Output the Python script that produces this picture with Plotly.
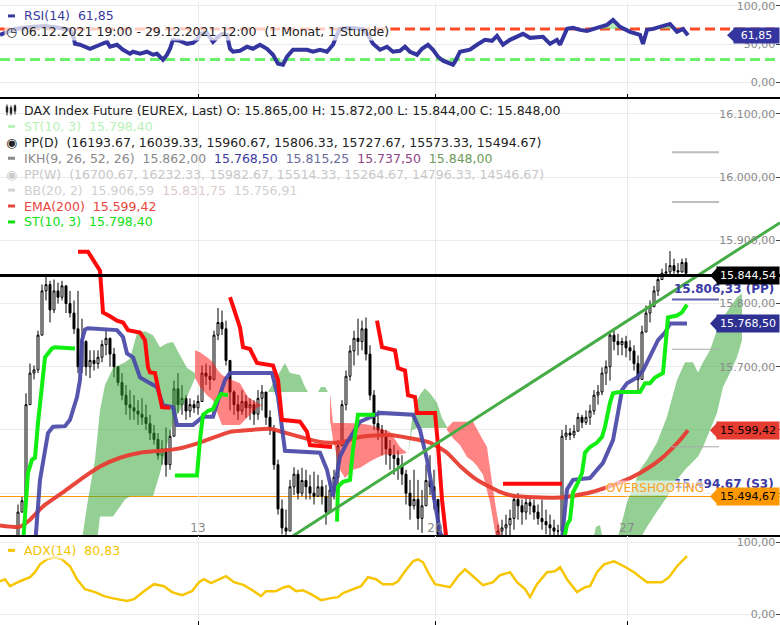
import plotly.graph_objects as go

W, H = 780, 625
FONT = "DejaVu Sans"

# ---------------- price bars (hourly DAX future, bar index 0 = first bar on screen) -------------
first_open = 15400
bar_close = [15405,15402,15408,15420,15470,15488,15640,15690,15695,15750,
             15820,15830,15790,15820,15810,15828,15800,15785,15760,15700,
             15740,15700,15710,15705,15715,15735,15745,15720,15700,15675,
             15655,15640,15635,15630,15625,15620,15610,15595,15585,15560,
             15570,15545,15590,15665,15640,15650,15630,15640,15635,15645,
             15690,15685,15680,15750,15770,15760,15710,15660,15640,15630,
             15645,15635,15640,15625,15650,15660,15620,15600,15545,15475,
             15445,15440,15510,15530,15500,15520,15510,15500,15495,15510,
             15495,15470,15505,15525,15575,15640,15685,15725,15745,15740,
             15760,15720,15655,15610,15600,15590,15570,15560,15555,15545,
             15530,15500,15480,15490,15460,15480,15520,15510,15490,15435,
             15405,15395,15390,15385,15380,15385,15390,15385,15380,15390,
             15395,15400,15410,15415,15440,15445,15450,15460,15490,15480,
             15470,15485,15480,15470,15460,15455,15450,15445,15440,15440,
             15590,15595,15592,15598,15620,15612,15620,15630,15655,15660,
             15690,15700,15750,15740,15735,15740,15730,15725,15705,15680,
             15755,15785,15795,15820,15838,15848,15850,15860,15852,15850,
             15865,15848]
bar_high = [15410,15412,15415,15428,15482,15494,15658,15705,15702,15757,
            15830,15842,15836,15838,15833,15836,15828,15820,15805,15820,
            15776,15742,15726,15726,15726,15742,15757,15746,15730,15700,
            15690,15671,15663,15655,15647,15650,15640,15624,15608,15595,
            15584,15604,15600,15678,15690,15671,15655,15650,15647,15655,
            15702,15705,15702,15757,15793,15789,15773,15702,15663,15655,
            15663,15655,15650,15647,15663,15671,15660,15631,15608,15553,
            15490,15474,15521,15541,15537,15540,15537,15529,15534,15529,
            15521,15513,15521,15537,15584,15647,15694,15734,15757,15776,
            15773,15778,15734,15663,15631,15608,15600,15584,15576,15568,
            15560,15537,15521,15537,15521,15505,15545,15560,15537,15490,
            15435,15415,15410,15405,15400,15400,15405,15405,15400,15400,
            15410,15415,15420,15428,15450,15458,15466,15474,15497,15500,
            15490,15497,15494,15490,15482,15490,15474,15466,15458,15450,
            15600,15608,15603,15608,15627,15624,15631,15640,15663,15671,
            15699,15710,15757,15757,15752,15746,15749,15742,15734,15718,
            15765,15797,15805,15828,15844,15855,15864,15883,15871,15864,
            15871,15872]
bar_low = [15395,15398,15400,15405,15420,15470,15490,15670,15680,15690,
           15752,15805,15770,15785,15800,15805,15785,15778,15752,15690,
           15690,15686,15682,15694,15697,15707,15718,15700,15683,15670,
           15647,15624,15616,15616,15608,15608,15600,15584,15577,15553,
           15545,15526,15537,15590,15627,15624,15616,15620,15627,15624,
           15645,15671,15663,15678,15742,15750,15702,15631,15624,15616,
           15624,15619,15616,15608,15616,15631,15608,15592,15537,15466,
           15435,15431,15440,15497,15490,15495,15490,15490,15482,15495,
           15482,15450,15470,15490,15513,15575,15631,15678,15702,15718,
           15726,15710,15647,15600,15584,15560,15545,15537,15529,15521,
           15513,15482,15458,15474,15442,15437,15480,15497,15474,15431,
           15395,15385,15380,15375,15370,15370,15375,15375,15370,15370,
           15380,15385,15390,15395,15410,15420,15425,15430,15442,15458,
           15450,15458,15466,15458,15450,15442,15435,15431,15431,15427,
           15431,15584,15584,15587,15598,15603,15608,15608,15624,15640,
           15655,15671,15678,15726,15718,15718,15715,15710,15694,15658,
           15680,15755,15770,15795,15812,15838,15842,15844,15847,15844,
           15849,15844]

day_tick_t = [49, 108.25, 156.25]
day_tick_text = ["13", "20", "27"]
price_ticks = [15500, 15600, 15700, 15800, 15900, 16000, 16100]

# ---------------- EMA(200) ----------------
ema_t = [-0.5, 4.5, 7, 10.25, 14.5, 19.5, 24.5, 29.5, 34.5, 39.5, 43.75, 49.5, 57, 62, 67, 69.5,
         74.5, 79.5, 84.5, 89.5, 97, 102, 107, 111.25, 114.5, 118.75, 124.5, 127.75, 139.5, 147,
         154.5, 159.5, 164.5, 169.5, 171.5]
ema_v = [15449, 15447, 15458, 15479, 15498, 15521, 15542, 15556, 15564, 15567, 15570, 15580, 15597,
         15600, 15602, 15598, 15589, 15581, 15580, 15589, 15592, 15587, 15580, 15564, 15543, 15521,
         15502, 15496, 15493, 15501, 15517, 15532, 15553, 15584, 15599.42]

# ---------------- IKH Kijun (blue) ----------------
kijun_t = [8, 9.5, 11.5, 12.75, 15.75, 17, 18.75, 19.5, 20, 20.75, 21.5, 28.75, 30.25, 31.25, 32.75,
           33.75, 34.5, 37, 38.75, 40.25, 42.75, 43.75, 47.75, 50.25, 52.75, 54, 55.75, 57, 67.5, 69,
           70.75, 79.5, 81.25, 82.75, 83.75, 84.5, 86.25, 89.5, 94.5, 102.75, 104.5, 106.25, 107.75,
           109, 110.75, None, 139.5, 141.25, 142.75, 147, 150.25, 152.75, 154, 155, 156.25, 158.75,
           160.25, 162.5, 164, 165.75, 167, 171.25]
kijun_v = [15395, 15521, 15595, 15605, 15606, 15616, 15652, 15679, 15742, 15759, 15761, 15758, 15747,
           15721, 15715, 15699, 15683, 15674, 15668, 15639, 15636, 15608, 15608, 15621, 15621, 15647,
           15679, 15690, 15690, 15652, 15567, 15564, 15537, 15495, 15532, 15558, 15580, 15613, 15627,
           15624, 15600, 15553, 15501, 15454, 15395, None, 15395, 15506, 15521, 15524, 15548, 15584,
           15627, 15663, 15674, 15683, 15694, 15721, 15742, 15754, 15768.5, 15768.5]

# ---------------- Supertrend ST(10,3): bearish (red) and bullish (green) parts ----------------
st_down_t = [19, 21.5, 24.5, 25.25, 27, 28.75, 30.25, 31.5, 34.5, 35.75, 36.5, 37, 38.25, 39, 40, 42, None,
             57, 58.75, 59.5, 60.25, 62, 63.75, 67.75, 69, 70, 74.5, 76.25, 77, 82.5, None,
             93.75, 95, 98.25, 99, 100.75, 101.5, 103.25, 103.75, 108.25, 109, 110, 111.25, None,
             125.25, 140]
st_down_v = [15882, 15882, 15852, 15786, 15780, 15773, 15770, 15758, 15754, 15742, 15699, 15691, 15690,
             15668, 15636, 15635, None,
             15810, 15778, 15762, 15731, 15728, 15706, 15702, 15679, 15616, 15613, 15597, 15576, 15573, None,
             15773, 15731, 15726, 15698, 15694, 15655, 15652, 15627, 15627, 15576, 15490, 15419, None,
             15515, 15515]
st_up_t = [5.25, 6, 6.5, 7.5, 8.25, 9, 10, 10.75, 11.5, 12.5, 13.25, 18.25, None,
           43.25, 48.75, 49.5, 50.25, 51.5, 52.75, 53.75, 54.75, 56.5, None,
           83.75, 84, 85.25, 87, 87.75, 89, 93.25, None,
           140.25, 141.25, 142, 142.75, 144, 145, 145.75, 147, 148.75, 150, 150.75, 152, 152.75, 154.5,
           159.5, 160.75, 162, 163.25, 165.25, 165.75, 166.25, 166.5, 168.75, 170, 171.25]
st_up_v = [15419, 15490, 15532, 15553, 15556, 15611, 15663, 15715, 15721, 15729, 15731, 15729, None,
           15528, 15528, 15584, 15624, 15630, 15633, 15647, 15657, 15655, None,
           15455, 15510, 15518, 15521, 15569, 15624, 15624, None,
           15419, 15450, 15458, 15501, 15517, 15532, 15564, 15573, 15580, 15589, 15605, 15643, 15658, 15660,
           15660, 15674, 15674, 15683, 15690, 15721, 15762, 15778, 15781, 15786, 15798.4]

# ---------------- Ichimoku cloud (span A / span B, shifted forward) ----------------
kumo1_t = [20, 21.5, 23.25, 24.5, 25.75, 27.75, 30.75, 32, 33.75, 35.75, 37.75, 39.5, 41.25, 42.75, 44.5, 46.25, 48.25]
kumo1_a = [15427, 15490, 15553, 15631, 15671, 15698, 15707, 15713, 15753, 15756, 15750, 15731, 15737, 15739, 15718, 15698, 15690]
kumo1_b = [15395, 15395, 15395, 15463, 15463, 15463, 15490, 15495, 15495, 15495, 15495, 15532, 15576, 15613, 15631, 15652, 15682]

kumo2_t = [48.25, 49.5, 51.25, 52.75, 54, 55, 56.25, 57.5, 59.5, 61.5, 63.75, 65]
kumo2_a = [15682, 15668, 15655, 15647, 15624, 15608, 15608, 15608, 15608, 15621, 15635, 15639]
kumo2_b = [15726, 15723, 15715, 15707, 15694, 15687, 15683, 15679, 15674, 15652, 15643, 15639]

kumo3_t = [66.5, 67.5, 68.75, 70.75, 72, 74.5, 75.75, 76.5, 79, 79.75, 80.75, 81.5]
kumo3_a = [15660, 15671, 15683, 15706, 15690, 15687, 15668, 15660, 15660, 15668, 15668, 15660]
kumo3_b = [15660, 15660, 15660, 15660, 15660, 15660, 15660, 15660, 15660, 15660, 15660, 15660]

kumo4_t = [82, 82.75, 84.5, 85.75, 87.75, 89.5, 92, 93.75, 95.75, 97, 99.5, 101.25]
kumo4_a = [15616, 15584, 15537, 15524, 15537, 15540, 15550, 15556, 15561, 15561, 15561, 15564]
kumo4_b = [15658, 15611, 15611, 15611, 15611, 15610, 15608, 15605, 15600, 15597, 15573, 15564]

kumo5_t = [101.5, 102.5, 103.75, 104.75, 105.75, 107, 108.75, 110, 111.25]
kumo5_a = [15561, 15616, 15647, 15658, 15666, 15658, 15643, 15619, 15605]
kumo5_b = [15561, 15600, 15603, 15603, 15603, 15603, 15603, 15603, 15603]

kumo6_t = [111.25, 112.75, 114.5, 116.25, 117.75, 118.75, 120.25, 121.25, 122, 122.75, 123.75, 125, 126]
kumo6_a = [15600, 15587, 15576, 15557, 15550, 15543, 15529, 15506, 15485, 15458, 15419, 15395, 15395]
kumo6_b = [15603, 15613, 15613, 15613, 15613, 15600, 15584, 15573, 15537, 15506, 15466, 15427, 15395]

kumo7_t = [147.5, 148.5, 149.5, 150.5]
kumo7_a = [15419, 15447, 15449, 15419]
kumo7_b = [15395, 15395, 15395, 15395]

kumo8_t = [153.5, 156.25, 159.5, 161.25, 163.75, 166.25, 168.75, 170.75, 172.75, 174, 175.25, 177, 178.75,
           180.25, 182, 183.75, 185]
kumo8_a = [15419, 15485, 15537, 15553, 15580, 15621, 15679, 15707, 15707, 15691, 15707, 15726, 15758,
           15778, 15794, 15810, 15816]
kumo8_b = [15395, 15408, 15427, 15447, 15471, 15494, 15521, 15537, 15550, 15558, 15573, 15600, 15627,
           15668, 15690, 15715, 15742]

# ---------------- drawn trend line ----------------
trend_t = [68, 194.5]
trend_v = [15413, 15928]

# ---------------- levels ----------------
last_line_level = 15844.54
pp_d_levels = [16193.67, 16039.33, 15960.67, 15806.33, 15727.67, 15573.33, 15494.67]
pp_d_names = ["R3", "R2", "R1", "PP", "S1", "S2", "S3"]
pp_d_t = [167.5, 179.25]
pp_w_levels = [16700.67, 16232.33, 15982.67, 15514.33, 15264.67, 14796.33, 14546.67]
ema_last = 15599.42
kijun_last = 15768.50
st_last = 15798.40

# ---------------- RSI(14) ----------------
rsi_t = [-0.5, 1.25, 3.25, 7, 10.75, 14.5, 17, 17.75, 18.25, 19.5, 22, 24.5, 26.25, 27, 28.75, 30.25, 32,
         32.75, 34.5, 36.25, 37.75, 38.75, 40.25, 41.25, 42, 42.75, 44.5, 46.25, 47.75, 49, 49.5, 51.25,
         52, 52.75, 53.75, 55, 56.25, 57, 57.75, 59.5, 61.25, 62.75, 64.5, 66.25, 67.75, 69, 70.25, 71.25,
         72.75, 76.25, 77.75, 79.5, 81.25, 82.75, 83.75, 84.5, 87, 90.25, 91.5, 92.75, 94.5, 96.25, 97.75,
         99.5, 100.75, 102, 103.75, 105, 106.5, 107.75, 109, 110.25, 112.75, 113.25, 114.5, 117, 118.75,
         120.75, 122.5, 123.75, 125.25, 127, 130.25, 132, 135.25, 137, 138.75, 139.5, 141.25, 142.75,
         144.5, 146.25, 148.75, 151.25, 152.75, 154.5, 157, 159.5, 160.25, 161.25, 162.75, 165.25, 167,
         168.75, 170.25, 171.5]
rsi_v = [62.3, 66.2, 70.1, 72.7, 74.0, 71.4, 68.8, 62.3, 50.6, 49.4, 44.2, 49.4, 53.2, 46.8, 49.4, 42.9,
         37.7, 40.3, 37.7, 40.3, 36.4, 37.7, 29.9, 36.4, 44.2, 55.8, 54.5, 50.6, 51.9, 57.1, 63.6, 64.9,
         59.7, 53.2, 58.4, 63.6, 62.3, 44.2, 40.3, 41.6, 46.8, 44.2, 49.4, 44.2, 36.4, 24.7, 23.4, 33.8,
         42.9, 42.9, 40.3, 42.9, 40.3, 49.4, 62.3, 70.1, 71.4, 70.1, 62.3, 50.6, 42.9, 46.8, 40.3, 41.6,
         46.8, 40.3, 36.4, 44.2, 49.4, 42.9, 33.8, 28.6, 23.4, 27.3, 40.3, 42.9, 49.4, 55.8, 54.5, 61.0,
         49.4, 55.8, 63.6, 58.4, 59.7, 50.6, 55.8, 49.4, 70.1, 71.4, 68.8, 67.5, 71.4, 75.3, 81.8, 72.7,
         66.2, 62.3, 50.6, 68.8, 70.1, 74.0, 76.6, 66.2, 70.1, 61.85]
rsi_levels = [70, 30]

# ---------------- ADX(14) ----------------
adx_t = [-0.5, 0.75, 2, 4.5, 7, 8.25, 9.5, 11.25, 13.25, 15, 17, 18.75, 20.75, 23.25, 25.5, 27.5, 31.25,
         33, 35.5, 38, 40.5, 42.5, 45, 47.5, 49.25, 50.5, 52.25, 54.25, 56, 58, 60.5, 63, 64.75, 66, 68.5,
         70.5, 71.75, 73.5, 75.25, 77.25, 79.75, 82.25, 84, 85.25, 87.75, 89.75, 91.5, 93.5, 95.25, 97.75,
         99, 100.75, 102.75, 104, 105.25, 106.5, 108.25, 110.25, 112, 114, 115.75, 117.75, 120.25, 122.75,
         124.5, 127, 128.75, 130.75, 132, 133.75, 136.25, 138.25, 139.5, 141.25, 143.75, 145.75, 147,
         148.75, 150.5, 153, 155.5, 158, 161.25, 165, 166.75, 168.75, 171.25]
adx_v = [45.8, 48.6, 38.9, 45.8, 51.4, 58.3, 69.4, 76.4, 79.2, 76.4, 66.7, 48.6, 34.7, 30.6, 25.0, 22.2,
         18.1, 20.8, 31.9, 41.7, 38.9, 30.6, 26.4, 31.9, 44.4, 48.6, 43.1, 48.6, 52.8, 44.4, 40.3, 31.9,
         25.0, 31.9, 31.9, 37.5, 38.9, 31.9, 33.3, 27.8, 19.4, 22.2, 23.6, 29.2, 34.7, 38.9, 51.4, 48.6,
         41.7, 41.7, 45.8, 59.7, 73.6, 76.4, 72.2, 58.3, 41.7, 38.9, 37.5, 52.8, 62.5, 52.8, 40.3, 44.4,
         54.2, 58.3, 44.4, 34.7, 23.6, 41.7, 58.3, 59.7, 65.3, 48.6, 30.6, 37.5, 38.9, 58.3, 69.4, 73.6,
         66.7, 58.3, 44.4, 44.4, 51.4, 66.7, 80.83]


# ================= helpers =================
def de(v, nd=2):
    s = f"{v:,.{nd}f}"
    return s.replace(",", "X").replace(".", ",").replace("X", ".")


def px(x):
    return x / W


def py(y):
    return 1 - y / H


# geometry (pixel layout)
RSI_DOM = [1 - 95 / H, 1.0]
MAIN_DOM = [1 - 536 / H, 1 - 97 / H]
ADX_DOM = [4 / H, 1 - 537 / H]
MAIN_RANGE = [15433.1, 16124.4]
RSI_RANGE = [-18.2, 105.2]
ADX_RANGE = [-8.33, 108.3]
GRID = "#ebebeb"
GREEN_FILL = "rgba(50,165,50,0.52)"
RED_FILL = "rgba(255,20,20,0.52)"
LEG = 12.5

bar_t = list(range(len(bar_close)))
bar_open = [first_open] + bar_close[:-1]
hi = [max(h, o, c) for h, o, c in zip(bar_high, bar_open, bar_close)]
lo = [min(l, o, c) for l, o, c in zip(bar_low, bar_open, bar_close)]

fig = go.Figure()

fig.add_trace(go.Candlestick(
    x=bar_t, open=bar_open, high=hi, low=lo, close=bar_close,
    xaxis="x", yaxis="y", whiskerwidth=0, hoverinfo="skip",
    increasing=dict(line=dict(color="black", width=1), fillcolor="white"),
    decreasing=dict(line=dict(color="black", width=1), fillcolor="black"),
))

kumo = [
    (kumo1_t, kumo1_a, kumo1_b, GREEN_FILL),
    (kumo2_t, kumo2_a, kumo2_b, RED_FILL),
    (kumo3_t, kumo3_a, kumo3_b, GREEN_FILL),
    (kumo4_t, kumo4_a, kumo4_b, RED_FILL),
    (kumo5_t, kumo5_a, kumo5_b, GREEN_FILL),
    (kumo6_t, kumo6_a, kumo6_b, RED_FILL),
    (kumo7_t, kumo7_a, kumo7_b, GREEN_FILL),
    (kumo8_t, kumo8_a, kumo8_b, GREEN_FILL),
]
for t, a, b, col in kumo:
    fig.add_trace(go.Scatter(x=t + t[::-1], y=a + b[::-1], fill="toself", fillcolor=col,
                             mode="lines", line=dict(width=0), hoverinfo="skip",
                             xaxis="x", yaxis="y"))

fig.add_trace(go.Scatter(x=ema_t, y=ema_v, mode="lines",
                         line=dict(color="rgba(232,60,50,0.95)", width=4, shape="spline", smoothing=0.6),
                         xaxis="x", yaxis="y", hoverinfo="skip"))
fig.add_trace(go.Scatter(x=kijun_t, y=kijun_v, mode="lines", line=dict(color="rgba(72,72,168,0.92)", width=4),
                         xaxis="x", yaxis="y", hoverinfo="skip", connectgaps=False))
fig.add_trace(go.Scatter(x=st_down_t, y=st_down_v, mode="lines", line=dict(color="#ff0a0a", width=4),
                         xaxis="x", yaxis="y", hoverinfo="skip", connectgaps=False))
fig.add_trace(go.Scatter(x=st_up_t, y=st_up_v, mode="lines", line=dict(color="#11ee11", width=4),
                         xaxis="x", yaxis="y", hoverinfo="skip", connectgaps=False))
fig.add_trace(go.Scatter(x=trend_t, y=trend_v, mode="lines", line=dict(color="#46ad46", width=3),
                         xaxis="x", yaxis="y", hoverinfo="skip"))

# RSI overbought / oversold shading (between the RSI line and the 70 / 30 levels)
ob_lvl, os_lvl = rsi_levels
fig.add_trace(go.Scatter(x=rsi_t, y=[ob_lvl] * len(rsi_t), mode="lines", line=dict(width=0),
                         xaxis="x2", yaxis="y2", hoverinfo="skip"))
fig.add_trace(go.Scatter(x=rsi_t, y=[max(v, ob_lvl) for v in rsi_v], mode="lines", line=dict(width=0),
                         fill="tonexty", fillcolor="rgba(110,225,110,0.55)", xaxis="x2", yaxis="y2", hoverinfo="skip"))
fig.add_trace(go.Scatter(x=rsi_t, y=[os_lvl] * len(rsi_t), mode="lines", line=dict(width=0),
                         xaxis="x2", yaxis="y2", hoverinfo="skip"))
fig.add_trace(go.Scatter(x=rsi_t, y=[min(v, os_lvl) for v in rsi_v], mode="lines", line=dict(width=0),
                         fill="tonexty", fillcolor="rgba(110,225,110,0.55)", xaxis="x2", yaxis="y2", hoverinfo="skip"))
fig.add_trace(go.Scatter(x=rsi_t, y=rsi_v, mode="lines", line=dict(color="#3535a0", width=4),
                         xaxis="x2", yaxis="y2", hoverinfo="skip"))
fig.add_trace(go.Scatter(x=adx_t, y=adx_v, mode="lines", line=dict(color="#f7c600", width=2.5),
                         xaxis="x3", yaxis="y3", hoverinfo="skip"))

shapes = []
for lvl, col in zip(rsi_levels, ["#ff4a26", "#6cf06c"]):
    shapes.append(dict(type="line", xref="paper", yref="y2", x0=0, x1=1, y0=lvl, y1=lvl,
                       line=dict(color=col, width=3, dash="10px,5px"), layer="between"))
shapes.append(dict(type="line", xref="paper", yref="y", x0=0, x1=1, y0=last_line_level, y1=last_line_level,
                   line=dict(color="black", width=3)))
shapes.append(dict(type="line", xref="paper", yref="y", x0=0, x1=1, y0=pp_d_levels[6], y1=pp_d_levels[6],
                   line=dict(color="#ff9800", width=1), layer="between"))
for name, lvl in zip(pp_d_names, pp_d_levels):
    if name == "S3":
        continue
    if name == "PP":
        col, wd = "rgba(80,80,170,0.9)", 2
    elif name.startswith("R"):
        col, wd = "#bdbdbd", 2
    else:
        col, wd = "#a8a8a8", 1
    shapes.append(dict(type="line", xref="x", yref="y", x0=pp_d_t[0], x1=pp_d_t[1], y0=lvl, y1=lvl,
                       line=dict(color=col, width=wd)))

annotations = []


def legend_text(y, text, color, x=22, size=LEG, bg=None):
    d = dict(xref="paper", yref="paper", x=px(x), y=py(y), xanchor="left", yanchor="middle",
             text=text, showarrow=False, font=dict(family=FONT, size=size, color=color))
    if bg:
        d.update(bgcolor=bg, borderpad=1)
    annotations.append(d)


def dash_marker(y, color):
    shapes.append(dict(type="rect", xref="paper", yref="paper", x0=px(8), x1=px(15),
                       y0=py(y + 1.5), y1=py(y - 1.5), fillcolor=color, line=dict(width=0)))


NB = "\u00a0"
dash_marker(14, "#3a3a9c")
legend_text(14, f"RSI(14){NB}{NB}{de(rsi_v[-1])}", "#3a3a9c")
legend_text(30, f"◷{NB}06.12.2021 19:00 - 29.12.2021 12:00{NB}{NB}(1 Monat, 1 Stunde)", "#222", x=4,
            bg="rgba(255,255,255,0.72)")

o, h_, l_, c = bar_open[-1], hi[-1], lo[-1], bar_close[-1]
legend_text(109, f"DAX Index Future (EUREX, Last) O: {de(o)} H: {de(h_)} L: {de(l_)} C: {de(c)}", "#222")
for xx, y0, y1, by0, by1 in [(7, 103, 114, 105, 111), (11, 104, 114, 106, 112), (15, 103, 113, 104, 110)]:
    shapes.append(dict(type="line", xref="paper", yref="paper", x0=px(xx), x1=px(xx), y0=py(y0), y1=py(y1),
                       line=dict(color="#222", width=1)))
    shapes.append(dict(type="rect", xref="paper", yref="paper", x0=px(xx - 1.2), x1=px(xx + 1.2), y0=py(by1), y1=py(by0),
                       fillcolor="#222", line=dict(width=0)))
dash_marker(125, "#b8f2b8")
legend_text(125, f"ST(10, 3){NB}{NB}{de(st_last)}", "#b8f2b8")
legend_text(141, "◉", "#222", x=4)
legend_text(141, "PP(D)" + NB + NB + "(" + ", ".join(f"{v:.2f}" for v in pp_d_levels) + ")", "#222")
dash_marker(157, "#8a8a8a")
legend_text(157, f"IKH(9, 26, 52, 26){NB}{NB}15.862,00{NB}{NB}<span style='color:#3b3b9e'>{de(kijun_last)}</span>"
                 f"{NB}{NB}<span style='color:#6c6c9c'>15.815,25</span>{NB}{NB}"
                 f"<span style='color:#8e4585'>15.737,50</span>{NB}{NB}<span style='color:#6b9a5b'>15.848,00</span>", "#8a8a8a")
legend_text(173, "◉", "#cccccc", x=4)
legend_text(173, "PP(W)" + NB + NB + "(" + ", ".join(f"{v:.2f}" for v in pp_w_levels) + ")", "#c8c8c8")
dash_marker(189, "#d4d4d4")
legend_text(189, f"BB(20, 2){NB}{NB}15.906,59{NB}{NB}<span style='color:#dccaca'>15.831,75</span>{NB}{NB}15.756,91", "#cfcfcf")
dash_marker(205, "#e8453c")
legend_text(205, f"EMA(200){NB}{NB}{de(ema_last)}", "#e8453c")
dash_marker(221, "#11e011")
legend_text(221, f"ST(10, 3){NB}{NB}{de(st_last)}", "#11e011")

dash_marker(551, "#f5c400")
legend_text(551, f"ADX(14){NB}{NB}{de(adx_v[-1])}", "#f5c400", bg="rgba(255,255,255,0.6)")

annotations.append(dict(xref="paper", yref="y", x=px(672), y=pp_d_levels[3], xanchor="left", yanchor="bottom",
                        yshift=2, text=f"<b>{de(pp_d_levels[3])} (PP)</b>", showarrow=False,
                        font=dict(family=FONT, size=12, color="#3a3aa5")))
annotations.append(dict(xref="paper", yref="y", x=px(672), y=pp_d_levels[6], xanchor="left", yanchor="bottom",
                        yshift=4, text=f"<b>{de(pp_d_levels[6])} (S3)</b>", showarrow=False,
                        font=dict(family=FONT, size=12, color="#3a3aa5")))
annotations.append(dict(xref="paper", yref="y", x=px(605), y=pp_d_levels[6], xanchor="left", yanchor="bottom",
                        yshift=1, text="OVERSHOOTING", showarrow=False, bgcolor="rgba(255,255,255,0.6)", borderpad=0,
                        font=dict(family=FONT, size=12, color="#ffa024")))


def value_box(v, yref, text_color, bg, box_w, tip_w, half_px, units_per_px):
    x_base = px(W - box_w)
    x_tip = px(W - box_w - tip_w)
    dv = half_px * units_per_px
    shapes.append(dict(type="path", xref="paper", yref=yref,
                       path=f"M {x_tip},{v} L {x_base},{v + dv} L {x_base},{v - dv} Z",
                       fillcolor=bg, line=dict(width=0)))
    annotations.append(dict(xref="paper", yref=yref, x=1, y=v, xanchor="right", yanchor="middle",
                            text=de(v), showarrow=False, bgcolor=bg, borderpad=0, width=box_w, height=2 * half_px,
                            font=dict(family=FONT, size=11, color=text_color)))


main_upp = (MAIN_RANGE[1] - MAIN_RANGE[0]) / 439.0
rsi_upp = (RSI_RANGE[1] - RSI_RANGE[0]) / 95.0
value_box(rsi_v[-1], "y2", "white", "#3535a0", 45, 8, 7.5, rsi_upp)
value_box(last_line_level, "y", "white", "black", 62, 8, 8.5, main_upp)
value_box(kijun_last, "y", "white", "#2e3192", 62, 8, 8.5, main_upp)
value_box(ema_last, "y", "black", "#e53b30", 62, 8, 8.5, main_upp)
value_box(pp_d_levels[6], "y", "black", "#ff9800", 62, 8, 8.5, main_upp)

yax_common = dict(side="right", ticklabelposition="inside", ticks="inside", ticklen=4, tickcolor="#444",
                  tickfont=dict(family=FONT, size=11, color="#8a8a8a"), showgrid=True, gridcolor=GRID,
                  zeroline=False, showline=False, fixedrange=True, ticklabeloverflow="allow")
xax_common = dict(showgrid=True, gridcolor=GRID, zeroline=False, tickvals=day_tick_t, fixedrange=True)

fig.update_layout(
    width=W, height=H, margin=dict(l=0, r=0, t=0, b=0),
    paper_bgcolor="white", plot_bgcolor="white", showlegend=False, separators=",.",
    font=dict(family=FONT, size=12, color="#222"), hovermode=False,
    xaxis=dict(domain=[0, 1], range=[-0.5, 194.5], anchor="y", ticktext=day_tick_text,
               ticklabelposition="inside", ticks="", showline=True, linecolor="black", linewidth=2,
               tickfont=dict(family=FONT, size=12, color="#8a8a8a"), rangeslider=dict(visible=False),
               **xax_common),
    xaxis2=dict(matches="x", anchor="y2", showticklabels=False, ticks="inside", ticklen=3, tickcolor="black",
                showline=True, linecolor="black", linewidth=2, **xax_common),
    xaxis3=dict(matches="x", anchor="y3", showticklabels=False, ticks="outside", ticklen=4, tickcolor="black",
                showline=False, **xax_common),
    yaxis=dict(domain=MAIN_DOM, range=MAIN_RANGE, anchor="x", tickvals=price_ticks, tickformat=",.2f", **yax_common),
    yaxis2=dict(domain=RSI_DOM, range=RSI_RANGE, anchor="x2", tickvals=[0, 50, 100], tickformat=".2f", **yax_common),
    yaxis3=dict(domain=ADX_DOM, range=ADX_RANGE, anchor="x3", tickvals=[0, 100], tickformat=".2f", **yax_common),
    shapes=shapes, annotations=annotations,
)

fig.write_html("out.html", config={"staticPlot": True},
               post_script="document.body.style.margin='0';document.body.style.overflow='hidden';")
